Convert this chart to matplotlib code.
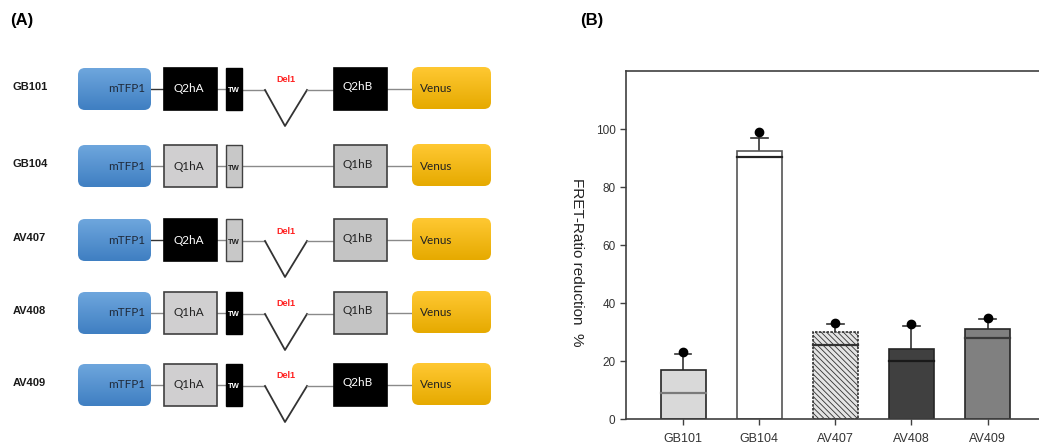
import numpy as np
import matplotlib
matplotlib.use("Agg")
import matplotlib.pyplot as plt
from matplotlib.patches import FancyBboxPatch, Rectangle
import matplotlib.colors as mcolors

plt.rcParams['font.family'] = ['Liberation Sans', 'DejaVu Sans']
plt.rcParams['hatch.color'] = "#555555"
plt.rcParams['hatch.linewidth'] = 0.6

# ---------------- data ----------------
constructs = ["GB101", "GB104", "AV407", "AV408", "AV409"]
hA_labels = ["Q2hA", "Q1hA", "Q2hA", "Q1hA", "Q1hA"]
hB_labels = ["Q2hB", "Q1hB", "Q1hB", "Q1hB", "Q2hB"]
tw_dark = [True, False, False, True, True]
has_del1 = [True, False, True, True, True]

categories = ["GB101", "GB104", "AV407", "AV408", "AV409"]
means = [16.9, 92.3, 29.9, 24.2, 31.1]
medians = [8.8, 90.5, 25.5, 20.1, 28.0]
err_upper = [22.4, 96.9, 32.8, 32.1, 34.6]
maxima = [23.0, 98.8, 33.0, 32.9, 35.0]
bar_colors = ["#d9d9d9", "#ffffff", "#e4e4e4", "#404040", "#808080"]
median_colors = ["#7a7a7a", "#222222", "#333333", "#1a1a1a", "#3a3a3a"]
yticks = [0, 20, 40, 60, 80, 100]

W, H = 1039, 445
fig = plt.figure(figsize=(W / 100, H / 100), dpi=100)

# ---------------- panel A ----------------
axA = fig.add_axes([0, 0, 561 / W, 1])
axA.set_xlim(0, 561)
axA.set_ylim(H, 0)
axA.axis("off")

fig.text(10 / W, 1 - 20 / H, "(A)", fontsize=12, fontweight="bold", va="center", ha="left")

row_y = [89, 166, 240, 313, 385]
hh = 21
box_font = ['Lato', 'Liberation Sans', 'DejaVu Sans']


def grad_box(ax, x0, x1, yc, top, bot):
    y0 = yc - hh
    p = FancyBboxPatch((x0, y0), x1 - x0, 2 * hh,
                       boxstyle="round,pad=0,rounding_size=7",
                       fc="none", ec="none", zorder=2)
    ax.add_patch(p)
    c1 = np.array(mcolors.to_rgb(top))
    c2 = np.array(mcolors.to_rgb(bot))
    t = np.linspace(0, 1, 50)[:, None]
    img = (c1[None, :] * (1 - t) + c2[None, :] * t)[:, None, :]
    im = ax.imshow(img, extent=(x0, x1, y0 + 2 * hh, y0), origin="upper",
                   aspect="auto", zorder=2, interpolation="bilinear")
    im.set_clip_path(p)
    return p


line_col = "#8a8a8a"
for i, name in enumerate(constructs):
    yc = row_y[i]
    axA.text(13, yc - 2, name, fontsize=8, fontweight="bold", ha="left", va="center", color="#1a1a1a")
    axA.plot([151, 164], [yc, yc], color="#333333" if hA_labels[i] == "Q2hA" else line_col, lw=1, zorder=1)
    axA.plot([217, 226], [yc, yc], color=line_col, lw=1, zorder=1)
    if has_del1[i]:
        axA.plot([242, 265], [yc + 1, yc + 1], color=line_col, lw=1, zorder=1)
        axA.plot([265, 285, 307], [yc + 1, yc + 37, yc + 1], color="#333333", lw=1.3, zorder=1)
        axA.plot([307, 334], [yc + 1, yc + 1], color=line_col, lw=1, zorder=1)
        axA.text(286, yc - 9, "Del1", fontsize=6.5, fontweight="bold", color="#ff2020",
                 ha="center", va="center")
    else:
        axA.plot([242, 334], [yc, yc], color=line_col, lw=1, zorder=1)
    axA.plot([387, 412], [yc, yc], color=line_col, lw=1, zorder=1)

    # mTFP1
    grad_box(axA, 78, 151, yc, "#6ea6dd", "#3f7fc2")
    axA.text(127, yc, "mTFP1", fontsize=8.5, family=box_font, ha="center", va="center",
             color="#1f2a3a", zorder=3)
    # hA
    darkA = hA_labels[i].startswith("Q2")
    axA.add_patch(Rectangle((164, yc - hh), 53, 2 * hh, fc="black" if darkA else "#d0cfd0",
                            ec="black" if darkA else "#404040", lw=1.2, zorder=2))
    axA.text(189, yc, hA_labels[i], fontsize=8.5, family=box_font, ha="center", va="center",
             color="white" if darkA else "#222222", zorder=3)
    # TW
    axA.add_patch(Rectangle((226, yc - hh), 16, 2 * hh,
                            fc="black" if tw_dark[i] else "#c8c8c8",
                            ec="black" if tw_dark[i] else "#404040", lw=1.0, zorder=2))
    axA.text(234, yc + 2, "TW", fontsize=5.5, fontweight="bold", ha="center", va="center",
             color="white" if tw_dark[i] else "#222222", zorder=3)
    # hB
    darkB = hB_labels[i].startswith("Q2")
    axA.add_patch(Rectangle((334, yc - hh), 53, 2 * hh, fc="black" if darkB else "#c4c4c4",
                            ec="black" if darkB else "#404040", lw=1.2, zorder=2))
    axA.text(358, yc - 2, hB_labels[i], fontsize=8.5, family=box_font, ha="center", va="center",
             color="white" if darkB else "#222222", zorder=3)
    # Venus
    grad_box(axA, 412, 491, yc - 1, "#ffc832", "#e6aa00")
    axA.text(436, yc, "Venus", fontsize=8.5, family=box_font, ha="center", va="center",
             color="#222222", zorder=3)

axA.set_xlim(0, 561)
axA.set_ylim(H, 0)

# ---------------- panel B ----------------
fig.text(580 / W, 1 - 20 / H, "(B)", fontsize=12, fontweight="bold", va="center", ha="left")

left, right = 626, 1039
top, bottom = 71, 419
axB = fig.add_axes([left / W, 1 - bottom / H, (right - left) / W, (bottom - top) / H])
x = np.arange(len(categories))
bw = 0.59
spine_col = "#404040"

bars = axB.bar(x, means, width=bw, color=bar_colors, edgecolor="#262626", linewidth=1.2, zorder=2)
bars[2].set_hatch("\\\\\\\\\\\\")
bars[2].set_edgecolor("#303030")
bars[2].set_linestyle((0, (1.5, 0.8)))
bars[1].set_edgecolor("#555555")

for xi, m, md, eu, mx, mc in zip(x, means, medians, err_upper, maxima, median_colors):
    axB.plot([xi - bw / 2, xi + bw / 2], [md, md], color=mc, lw=1.6, zorder=3)
    axB.plot([xi, xi], [m, eu], color="#333333", lw=1.2, zorder=1)
    axB.plot([xi - 0.11, xi + 0.11], [eu, eu], color="#333333", lw=1.2, zorder=1)
    axB.plot([xi], [mx], marker="o", ms=6, color="black", zorder=4)

axB.set_xlim(-0.75, 4.675)
axB.set_ylim(0, 120)
axB.set_yticks(yticks)
axB.set_xticks(x)
axB.set_xticklabels(categories)
axB.tick_params(axis="both", direction="out", length=4, width=1, color=spine_col,
                labelcolor="#333333", labelsize=8.5)
axB.tick_params(axis="x", labelsize=9, pad=6)
for s in ["left", "top", "bottom"]:
    axB.spines[s].set_color(spine_col)
    axB.spines[s].set_linewidth(1.2)
axB.spines["right"].set_visible(False)
axB.set_ylabel("FRET-Ratio reduction  %", rotation=-90, fontsize=11, color="#222222",
               va="center", ha="center")
axB.yaxis.set_label_coords(-0.118, 0.45)

fig.savefig("out.png", dpi=100)
